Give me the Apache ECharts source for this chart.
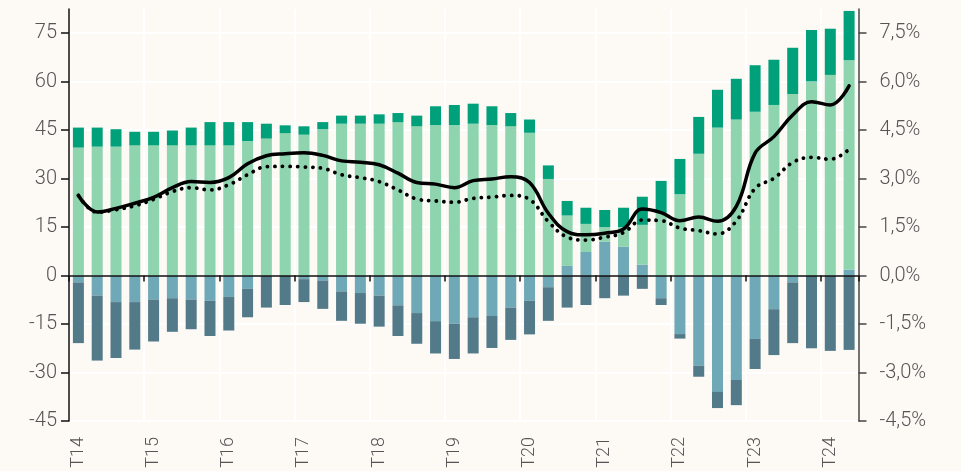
<!DOCTYPE html>
<html>
<head>
<meta charset="utf-8">
<script src="https://cdn.jsdelivr.net/npm/echarts@6/dist/echarts.min.js"></script>
<style>
html,body{margin:0;padding:0;background:#fdf9f5;}
#chart{width:961px;height:471px;}
</style>
</head>
<body>
<div id="chart"></div>
<script>
var categories = [
  '2014T1','2014T2','2014T3','2014T4','2015T1','2015T2','2015T3','2015T4',
  '2016T1','2016T2','2016T3','2016T4','2017T1','2017T2','2017T3','2017T4',
  '2018T1','2018T2','2018T3','2018T4','2019T1','2019T2','2019T3','2019T4',
  '2020T1','2020T2','2020T3','2020T4','2021T1','2021T2','2021T3','2021T4',
  '2022T1','2022T2','2022T3','2022T4','2023T1','2023T2','2023T3','2023T4',
  '2024T1','2024T2'
];
var tickLabels = ['T14','T15','T16','T17','T18','T19','T20','T21','T22','T23','T24'];

// light blue component
var seriesC = [-2.1,-6.2,-8.2,-8.2,-7.4,-7.0,-7.4,-7.8,-6.6,-4.1,0,0,-1.1,-1.5,-4.9,-5.4,-6.2,-9.2,-11.6,-14.1,-14.9,-12.9,-12.5,-9.9,-7.8,-3.6,3.0,7.3,10.5,8.9,3.4,-7.0,-18.1,-27.9,-36.0,-32.3,-19.6,-10.4,-2.1,0,0,1.8];
// dark slate component
var seriesD = [-18.8,-20.1,-17.3,-14.7,-13.0,-10.4,-9.2,-10.9,-10.4,-8.8,-9.9,-9.1,-7.1,-8.8,-9.1,-9.5,-9.6,-9.5,-9.5,-10.0,-10.9,-11.2,-9.9,-10.0,-10.4,-10.4,-9.9,-9.1,-7.0,-6.2,-4.1,-2.1,-1.4,-3.4,-5.0,-7.8,-9.3,-14.2,-18.8,-22.5,-23.3,-23.0];
// light green component
var seriesA = [39.6,39.9,39.9,40.3,40.3,40.3,40.3,40.3,40.3,41.6,42.4,44.1,43.6,45.3,47.0,47.0,47.0,47.5,46.2,46.6,46.6,47.0,46.6,46.2,44.2,29.9,15.6,8.7,4.5,6.1,12.3,19.4,25.2,37.7,45.8,48.3,50.7,52.8,56.2,60.1,62.1,64.9];
// dark green component
var seriesB = [6.2,5.9,5.4,4.2,4.2,4.6,5.5,7.2,7.2,5.9,4.6,2.4,2.6,2.2,2.5,2.5,2.9,2.8,3.3,5.8,6.2,6.2,5.8,4.1,4.1,4.2,4.5,5.0,5.3,6.0,8.7,9.9,10.9,11.4,11.7,12.6,14.4,14.0,14.3,15.9,14.3,15.2];
// lines, right axis (%)
var lineSolid = [2.48,1.97,2.08,2.24,2.42,2.72,2.91,2.88,3.03,3.46,3.71,3.77,3.80,3.72,3.55,3.51,3.43,3.17,2.88,2.83,2.72,2.94,2.99,3.06,2.88,1.93,1.36,1.26,1.31,1.44,2.06,1.95,1.70,1.81,1.68,2.14,3.79,4.30,4.97,5.38,5.28,5.87];
var lineDotted = [2.48,1.96,2.04,2.16,2.36,2.60,2.72,2.65,2.81,3.12,3.37,3.38,3.36,3.32,3.12,3.03,2.91,2.65,2.37,2.31,2.27,2.39,2.43,2.48,2.36,1.67,1.19,1.10,1.19,1.33,1.72,1.70,1.47,1.39,1.29,1.69,2.70,3.01,3.50,3.66,3.60,3.91];

var FONT = 'Roboto';
var TXT = '#555555';

var chart = echarts.init(document.getElementById('chart'), null, {renderer: 'canvas'});

function barSeries(name, data, color) {
  return {
    name: name, type: 'bar', stack: 'total', data: data,
    barWidth: 11, itemStyle: {color: color}, xAxisIndex: 1, yAxisIndex: 0,
    emphasis: {disabled: true}, silent: true
  };
}

chart.setOption({
  backgroundColor: '#fdf9f5',
  animation: false,
  grid: {left: 69, right: 102.5, top: 9, bottom: 50, containLabel: false},
  xAxis: [
    {
      type: 'category', data: categories, position: 'bottom',
      axisLine: {show: true, onZero: true, lineStyle: {color: '#111111', width: 1.5}},
      axisTick: {show: true, interval: 3, length: 6, lineStyle: {color: '#111111', width: 1.5}},
      axisLabel: {show: false},
      splitLine: {show: false},
      z: 10
    },
    {
      type: 'category', data: categories, position: 'top', offset: -412,
      axisLine: {show: false, onZero: false},
      axisTick: {show: false},
      axisLabel: {
        interval: 3, rotate: -90, margin: 16, inside: true,
        fontFamily: FONT, fontSize: 18, fontWeight: 300, color: TXT,
        formatter: function (v, i) { return tickLabels[Math.floor(i / 4)]; }
      },
      splitLine: {show: true, interval: 3, lineStyle: {color: '#ffffff', width: 2}}
    }
  ],
  yAxis: [
    {
      type: 'value', min: -45, max: 82.5, interval: 15, position: 'left',
      axisLine: {show: true, lineStyle: {color: '#111111', width: 1.5}},
      axisTick: {show: true, length: 8, lineStyle: {color: '#111111', width: 1.5}},
      axisLabel: {
        margin: 12, fontFamily: FONT, fontSize: 20, fontWeight: 300, color: TXT,
        showMaxLabel: false
      },
      splitLine: {show: true, showMaxLine: false, lineStyle: {color: '#ffffff', width: 2}}
    },
    {
      type: 'value', min: -4.5, max: 8.25, interval: 1.5, position: 'right',
      axisLine: {show: true, lineStyle: {color: '#444444', width: 1.5}},
      axisTick: {show: true, length: 8, lineStyle: {color: '#444444', width: 1.5}},
      axisLabel: {
        margin: 21, fontFamily: FONT, fontSize: 20, fontWeight: 300, color: TXT,
        showMaxLabel: false,
        formatter: function (v) { return v.toFixed(1).replace('.', ',') + '%'; }
      },
      splitLine: {show: false}
    }
  ],
  series: [
    barSeries('C', seriesC, '#6fa8b7'),
    barSeries('D', seriesD, '#537a89'),
    barSeries('A', seriesA, '#8dd4af'),
    barSeries('B', seriesB, '#00a07b'),
    {
      name: 'solid', type: 'line', yAxisIndex: 1, xAxisIndex: 0, data: lineSolid,
      smooth: 0.4, symbol: 'none', silent: true,
      lineStyle: {color: '#000000', width: 3.5, cap: 'round', join: 'round'},
      z: 5
    },
    {
      name: 'dotted', type: 'line', yAxisIndex: 1, xAxisIndex: 0, data: lineDotted,
      smooth: 0.4, symbol: 'none', silent: true,
      lineStyle: {color: '#000000', width: 3.8, type: [0.1, 7.5], cap: 'round'},
      z: 4
    }
  ]
});
</script>
</body>
</html>
